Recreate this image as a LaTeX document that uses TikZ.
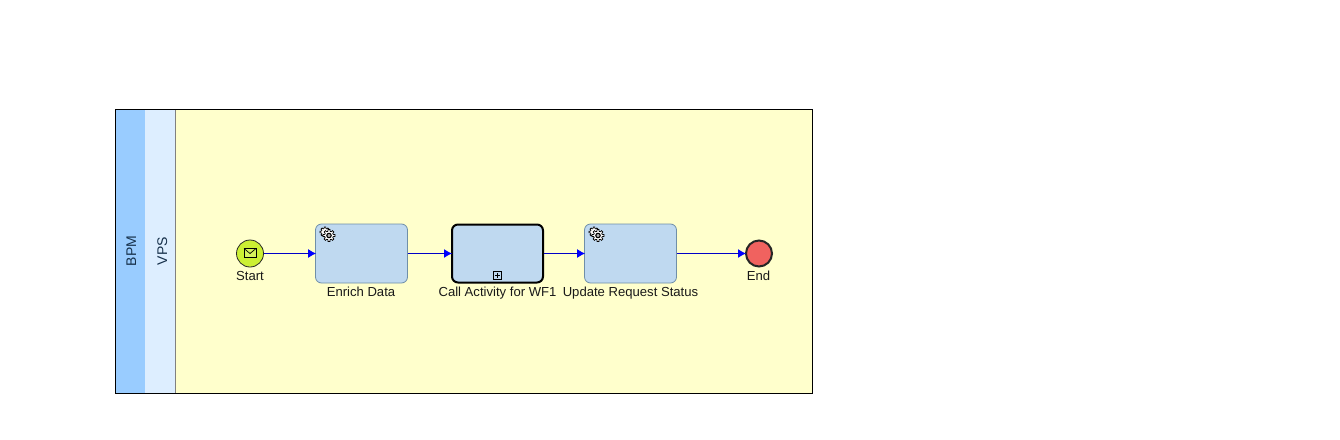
\documentclass[tikz,border=0pt]{standalone}
\usepackage{fontspec}
\setmainfont{Liberation Sans}
\usetikzlibrary{arrows.meta}
\definecolor{lanecol}{HTML}{FFFFCC}
\definecolor{poolband}{HTML}{99CCFF}
\definecolor{laneband}{HTML}{DDEEFF}
\definecolor{taskfill}{HTML}{BFD9F0}
\definecolor{taskline}{HTML}{6F8FA8}
\definecolor{startfill}{HTML}{CCF033}
\definecolor{endfill}{HTML}{F0625F}
\definecolor{flowcol}{HTML}{0000C8}
\definecolor{tipcol}{HTML}{0000FF}
\definecolor{bandtext}{HTML}{16304A}
\tikzset{
  x=1pt,y=-1pt,
  bandlabel/.style={rotate=90,font=\fontsize{14}{15}\selectfont,text=bandtext,inner sep=0pt,anchor=base},
  tasknode/.style={rectangle,rounded corners=6pt,draw=taskline,line width=0.8pt,fill=taskfill,minimum width=92pt,minimum height=59pt,inner sep=0pt},
  callnode/.style={tasknode,draw=black,line width=2pt,minimum width=91pt,minimum height=58pt},
  startnode/.style={circle,draw=black!85,line width=0.8pt,fill=startfill,minimum size=27pt,inner sep=0pt},
  endnode/.style={circle,draw=black!85,line width=2pt,fill=endfill,minimum size=26pt,inner sep=0pt},
  caption/.style={font=\fontsize{13.1}{15}\selectfont,inner sep=0pt,text=black!90,anchor=base},
  flow/.style={draw=tipcol,line width=1pt,shorten >=-1pt,-{Latex[length=8pt,width=9pt]},
    postaction={draw=flowcol,-,shorten >=6pt}},
}
\newcommand{\gearshape}[4]{% x y radius fill
  \begin{scope}[shift={(#1,#2)}]
    \fill[#4,draw=black,line width=0.7pt]
      (0:#3) \foreach \a in {0,45,...,315} {
        -- ({\a+9}:#3) -- ({\a+15}:{#3*0.72}) -- ({\a+30}:{#3*0.72}) -- ({\a+36}:#3)
      } -- cycle;
  \end{scope}}
\newcommand{\gearicon}[2]{% centre of the front gear
  \gearshape{#1-4}{#2-3.5}{5}{white}
  \gearshape{#1}{#2}{6}{white}
  \fill[gray!60,draw=black,line width=1.1pt] (#1,#2) circle (2.2);
}
\begin{document}
\begin{tikzpicture}
\useasboundingbox (0,0) rectangle (1340,439);
\fill[white] (0,0) rectangle (1340,439);
% pool and lane
\fill[lanecol] (175,109.5) rectangle (812.5,393);
\fill[poolband] (115.5,109.5) rectangle (145,393);
\fill[laneband] (145,109.5) rectangle (175,393);
\draw[gray,line width=0.8pt] (175.5,109.5) -- (175.5,393);
\draw[black,line width=0.9pt] (115.5,109.5) rectangle (812.5,393);
\node[bandlabel] (bpm) at (136,251) {BPM};
\node[bandlabel] (vps) at (167,251) {VPS};
% nodes
\node[startnode] (start) at (250,253.5) {};
\node[tasknode] (enrich) at (361.5,253.5) {};
\node[callnode] (call) at (497.5,253.5) {};
\node[tasknode] (update) at (630.5,253.5) {};
\node[endnode] (end) at (759,253.5) {};
% captions
\node[caption] (startlabel) at (250,280) {Start};
\node[caption] (enrichlabel) at (361,296) {Enrich Data};
\node[caption] (calllabel) at (497.5,296) {Call Activity for WF1};
\node[caption] (updatelabel) at (630.5,296) {Update Request Status};
\node[caption] (endlabel) at (758.5,280) {End};
% icons
\draw[black,line width=0.7pt,fill=white!20!startfill] (244,248.5) rectangle (256,257.5);
\draw[black,line width=0.7pt] (244,248.5) -- (250,253.5) -- (256,248.5);
\gearicon{329}{235.5}
\gearicon{598}{235.5}
\draw[black,line width=0.7pt] (493,271) rectangle (501.5,279.5);
\draw[black,line width=0.7pt] (494.8,275.25) -- (499.7,275.25) (497.25,273) -- (497.25,277.5);
% flows
\draw[flow] (start) -- (enrich);
\draw[flow] (enrich) -- (call);
\draw[flow] (call) -- (update);
\draw[flow] (update) -- (end);
\end{tikzpicture}
\end{document}
